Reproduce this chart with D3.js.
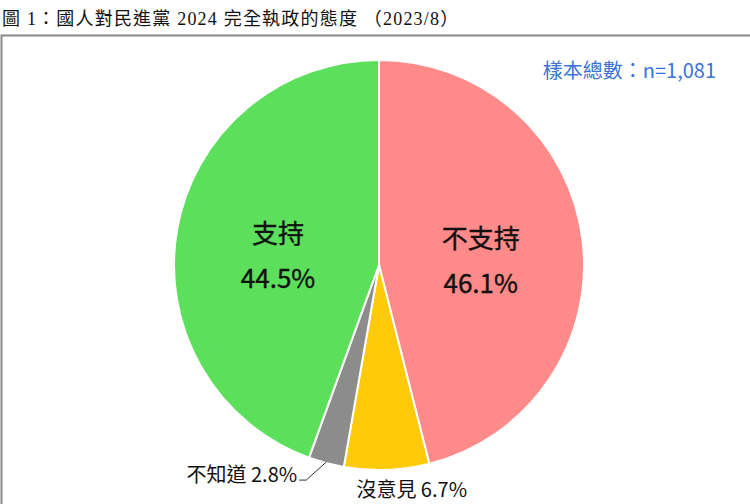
<!DOCTYPE html>
<html>
<head>
<meta charset="utf-8">
<script src="https://cdn.jsdelivr.net/npm/d3@7"></script>
<style>
  body { margin: 0; background: #fff; }
  svg { display: block; }
  text { font-family: "Noto Sans CJK TC", "Noto Sans", sans-serif; }
</style>
</head>
<body>
<div id="chart"></div>
<script>
// data
const categories = ['不支持', '沒意見', '不知道', '支持'];
const values = [46.1, 6.7, 2.8, 44.5];
const colors = ['#ff8a8a', '#ffca0a', '#8c8c8c', '#5ce05c'];
const titleText = '圖 1：國人對民進黨 2024 完全執政的態度 （2023/8）';
const sampleText = '樣本總數：n=1,081';

const width = 750, height = 504;
const cx = 379, cy = 265, radius = 205;

let svg = d3.select('#chart').append('svg')
    .attr('width', width)
    .attr('height', height);

// title
svg.append('text')
    .attr('x', 2)
    .attr('y', 25)
    .style('font-family', '"Liberation Serif", "Noto Sans CJK TC", serif')
    .style('font-size', '18px')
    .style('letter-spacing', '1.2px')
    .style('fill', '#111')
    .text(titleText);

// frame
svg.append('path')
    .attr('d', 'M1.5,' + height + 'V35.5H' + width)
    .style('fill', 'none')
    .style('stroke', '#8a8a8a')
    .style('stroke-width', 2);

svg.append('text')
    .attr('x', 716)
    .attr('y', 78)
    .attr('text-anchor', 'end')
    .style('font-size', '20px')
    .style('fill', '#3d72d9')
    .text(sampleText);

let g = svg.append('g').attr('transform', 'translate(' + cx + ',' + cy + ')');

let pie = d3.pie().sort(null);
let arc = d3.arc().innerRadius(0).outerRadius(radius);
let labelArc = d3.arc().innerRadius(radius * 0.5).outerRadius(radius * 0.5);
let edgeArc = d3.arc().innerRadius(radius).outerRadius(radius);

let pieData = pie(values);

g.selectAll('path.slice')
    .data(pieData)
    .enter()
    .append('path')
    .attr('class', 'slice')
    .attr('d', arc)
    .style('fill', (d, i) => colors[i])
    .style('stroke', '#ffffff')
    .style('stroke-width', 2);

// big labels inside the two large slices
pieData.forEach((d, i) => {
    if (d.data < 20) return;
    let c = labelArc.centroid(d);
    let t = g.append('text')
        .attr('text-anchor', 'middle')
        .style('font-size', '26px')
        .style('fill', '#111')
        .style('stroke', '#111')
        .style('stroke-width', 0.4);
    t.append('tspan').attr('x', c[0]).attr('y', c[1] - 4).text(categories[i]);
    t.append('tspan').attr('x', c[0]).attr('y', c[1] + 41).text(d.data.toFixed(1) + '%');
});

// small labels outside
pieData.forEach((d, i) => {
    if (d.data >= 20) return;
    let e = edgeArc.centroid(d);
    let label = categories[i] + ' ' + d.data.toFixed(1) + '%';
    if (categories[i] === '不知道') {
        g.append('path')
            .attr('d', 'M' + e[0] + ',' + (e[1] - 1) + 'L' + (e[0] - 20) + ',' + (e[1] + 17) + 'H' + (e[0] - 27))
            .style('fill', 'none')
            .style('stroke', '#333')
            .style('stroke-width', 1);
        g.append('text')
            .attr('x', e[0] - 29)
            .attr('y', e[1] + 19)
            .attr('text-anchor', 'end')
            .style('font-size', '20px')
            .style('fill', '#111')
            .text(label);
    } else {
        g.append('text')
            .attr('x', e[0] + 25)
            .attr('y', e[1] + 27)
            .attr('text-anchor', 'middle')
            .style('font-size', '20px')
            .style('fill', '#111')
            .text(label);
    }
});
</script>
</body>
</html>
